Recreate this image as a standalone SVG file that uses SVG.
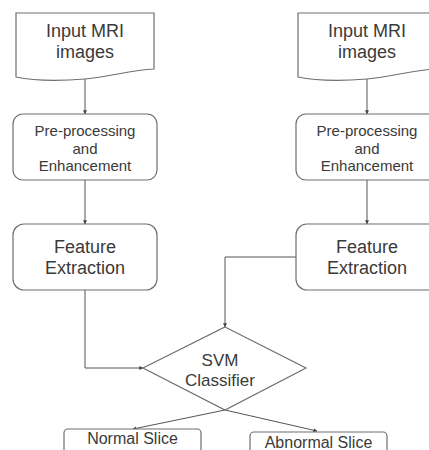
<svg xmlns="http://www.w3.org/2000/svg" width="429" height="450" viewBox="0 0 429 450">
  <style>
    .shape { fill: #ffffff; stroke: #6f6f6f; stroke-width: 1.2; }
    .wire { fill: none; stroke: #555555; stroke-width: 1; }
    text { font-family: "Liberation Sans", Arial, sans-serif; fill: #3a3a3a; text-anchor: middle; }
    .big { font-size: 18px; }
    .mid { font-size: 15px; }
    .cls { font-size: 17px; }
    .out { font-size: 16px; }
  </style>
  <defs>
    <marker id="tip" viewBox="0 0 6 6" refX="5.5" refY="3" markerWidth="4" markerHeight="4" orient="auto">
      <path d="M0,0 L6,3 L0,6 Z" fill="#444444"/>
    </marker>
  </defs>
  <rect width="429" height="450" fill="#ffffff"/>

  <!-- connectors -->
  <g id="connectors" class="wire" marker-end="url(#tip)">
    <path d="M85,79 V114"/>
    <path d="M85,180 V224"/>
    <path d="M85,290 V368 H143"/>
    <path d="M367,78 V114"/>
    <path d="M367,180 V224"/>
    <path d="M296,257 H225 V327"/>
    <path d="M225,410 L133,429"/>
    <path d="M225,410 L317,431"/>
  </g>

  <!-- left branch -->
  <g id="input-left">
    <path class="shape" d="M16,13 H154 V69 C130,70 110,77 85,79 C60,81 35,81 16,77 Z"/>
    <text class="big" x="85" y="37">Input MRI</text>
    <text class="big" x="85" y="58">images</text>
  </g>
  <g id="preprocess-left">
    <rect class="shape" x="13" y="114" width="144" height="66" rx="10"/>
    <text class="mid" x="85" y="136">Pre-processing</text>
    <text class="mid" x="85" y="153.5">and</text>
    <text class="mid" x="85" y="171">Enhancement</text>
  </g>
  <g id="features-left">
    <rect class="shape" x="13" y="224" width="144" height="66" rx="11"/>
    <text class="big" x="85" y="253">Feature</text>
    <text class="big" x="85" y="274">Extraction</text>
  </g>

  <!-- right branch -->
  <g id="input-right">
    <path class="shape" d="M298,13 H436 V69 C412,70 392,77 367,79 C342,81 317,81 298,77 Z"/>
    <text class="big" x="367" y="37">Input MRI</text>
    <text class="big" x="367" y="58">images</text>
  </g>
  <g id="preprocess-right">
    <rect class="shape" x="296" y="114" width="144" height="66" rx="10"/>
    <text class="mid" x="367" y="136">Pre-processing</text>
    <text class="mid" x="367" y="153.5">and</text>
    <text class="mid" x="367" y="171">Enhancement</text>
  </g>
  <g id="features-right">
    <rect class="shape" x="296" y="224" width="144" height="66" rx="11"/>
    <text class="big" x="367" y="253">Feature</text>
    <text class="big" x="367" y="274">Extraction</text>
  </g>

  <!-- classifier -->
  <g id="svm">
    <path class="shape" d="M225,327 L306,368 L225,410 L143,368 Z"/>
    <text class="cls" x="220" y="366">SVM</text>
    <text class="cls" x="220" y="386">Classifier</text>
  </g>

  <!-- outcomes -->
  <g id="normal">
    <rect class="shape" x="64" y="429" width="137" height="30" rx="4"/>
    <text class="out" x="132.5" y="443.5">Normal Slice</text>
  </g>
  <g id="abnormal">
    <rect class="shape" x="250" y="432" width="137" height="30" rx="4"/>
    <text class="out" x="318.5" y="448">Abnormal Slice</text>
  </g>
</svg>
